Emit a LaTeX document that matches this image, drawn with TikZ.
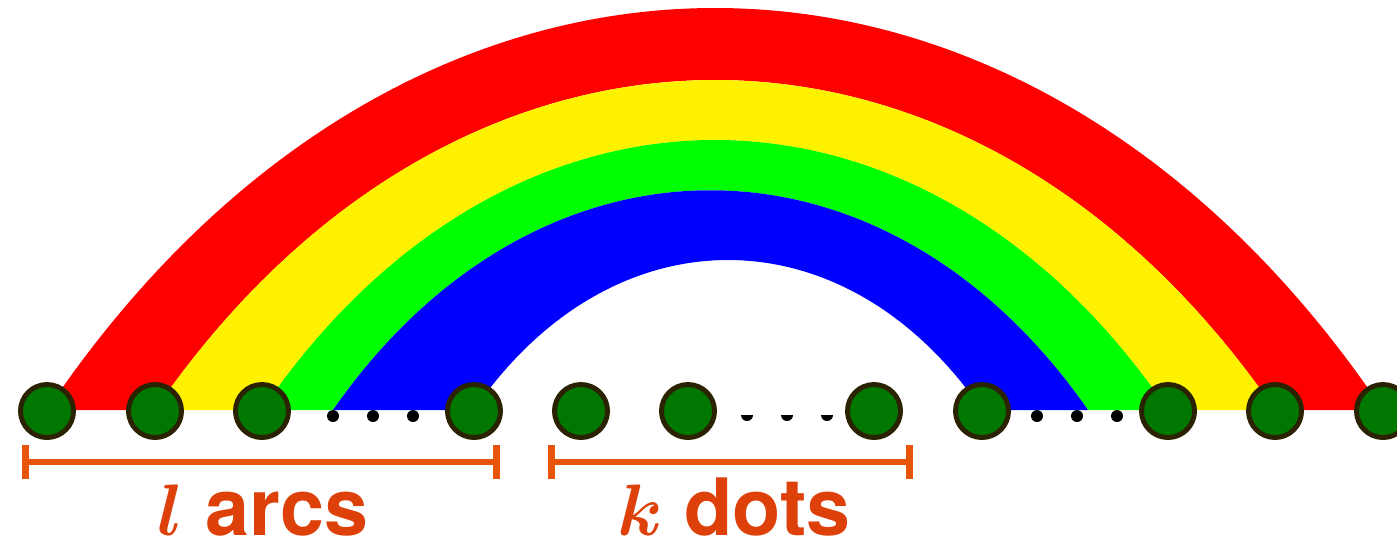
\documentclass[tikz,border=0pt]{standalone}
\usepackage{fontspec}
\usepackage{bm}
\setsansfont{TeX Gyre Heros}
\usetikzlibrary{arrows.meta}
\definecolor{dotgreen}{RGB}{0,119,0}
\definecolor{dotrim}{RGB}{42,34,0}
\definecolor{barorange}{RGB}{232,84,10}
\definecolor{txtorange}{RGB}{222,64,10}

\begin{document}
\begin{tikzpicture}[x=0.01cm,y=0.01cm,
  site/.style={circle,fill=dotgreen,draw=dotrim,line width=1.4pt,minimum size=0.53cm,inner sep=0pt},
  spanbar/.style={barorange,line width=1.9pt,{Bar[width=0.34cm]}-{Bar[width=0.34cm]}},
  lbl/.style={txtorange,anchor=base,inner sep=0pt,font=\fontsize{22.5}{27}\selectfont\sffamily\bfseries}]
  \useasboundingbox (0,0) rectangle (1397,544);
  % little dots for the skipped positions
  \foreach \x in {333,373,413,1037,1077,1117}
    \fill (\x,128) circle (0.06cm);
  \foreach \x in {747,787,827}
    \fill (\x-6,129) arc (180:360:0.06cm) -- cycle;
  % the bows: outer edge, then inner edge back
  \foreach \col/\xa/\xb/\ha/\xc/\xd/\hb in {red/47/1383/536/155/1275/440,
      yellow/155/1275/440/262/1168/360, green/262/1168/360/333/1088/293,
      blue/333/1088/293/474/982/200}{
    \pgfmathsetmacro\da{0.27*(\xb-\xa)}
    \pgfmathsetmacro\db{0.27*(\xd-\xc)}
    \fill[\col] (\xa,134) .. controls (\xa+\da,134+\ha) and (\xb-\da,134+\ha) .. (\xb,134)
      -- (\xd,134) .. controls (\xd-\db,134+\hb) and (\xc+\db,134+\hb) .. (\xc,134) -- cycle;
  }
  % sites
  \foreach \x [count=\i] in {47,155,262,474,581,688,874,982,1168,1275,1383}
    \node[site] (p\i) at (\x,133) {};
  \coordinate (la) at (22,82);
  \coordinate (lb) at (500,82);
  \coordinate (ka) at (548,82);
  \coordinate (kb) at (913,82);
  \draw[spanbar] (la) -- (lb);
  \draw[spanbar] (ka) -- (kb);
  \node[lbl] (larcs) at (263,9) {$\bm{l}$ arcs};
  \node[lbl] (kdots) at (734,9) {$\bm{k}$ dots};
\end{tikzpicture}
\end{document}
